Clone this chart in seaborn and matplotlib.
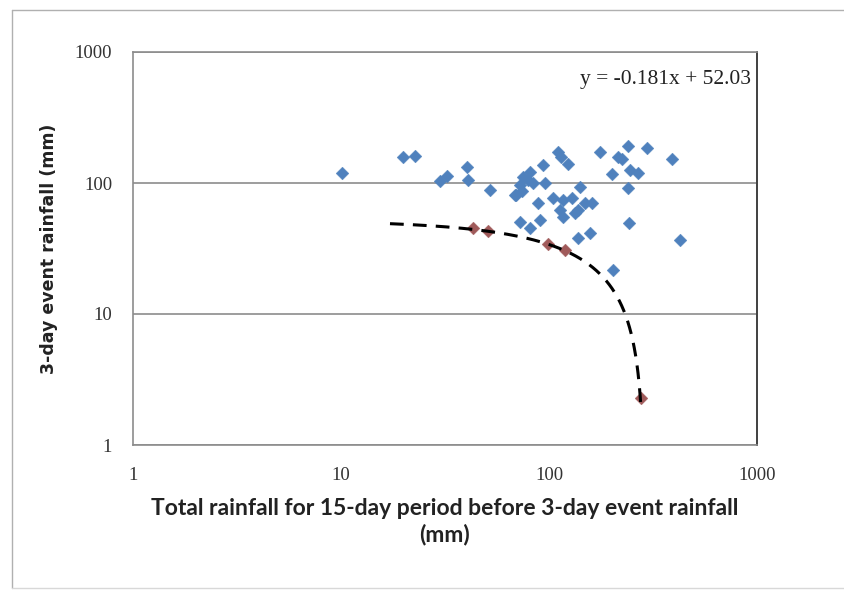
import numpy as np
import pandas as pd
import matplotlib
matplotlib.use("Agg")
import matplotlib.pyplot as plt
from matplotlib.lines import Line2D
import seaborn as sns

# ---------- DATA ----------
# blue series: all events
event_x = [10.1, 19.9, 22.7, 29.9, 32.3, 40.4, 40.8, 52.0, 68.7, 72.6,
           75.0, 79.3, 81.1, 83.8, 95.7, 93.6, 110.5, 114, 123, 176,
           201, 215, 224, 240, 296, 245, 268, 240, 390, 69.4,
           74.2, 141, 88.5, 104.5, 117, 129, 113, 117, 133, 138,
           149, 161, 72.6, 90.5, 81.1, 138, 157, 242, 426, 203]
event_y = [119, 158, 161, 104, 113, 132, 105, 88.5, 81, 96.6,
           111, 105, 121, 100, 100, 137, 172, 158, 140, 172,
           117, 158, 152, 192, 185, 126, 119, 91.6, 152, 81,
           86.9, 93.2, 70.4, 76.8, 74.2, 76.8, 62.2, 55.0, 59.0, 62.2,
           70.4, 70.4, 50.4, 52.2, 45.3, 38.0, 41.5, 49.5, 36.7, 21.7]

# red series: threshold events
thr_x = [43, 51, 99, 119, 277]
thr_y = [45, 43, 34, 31, 2.3]

# trendline as printed on the chart, drawn over its forecast range
SLOPE = -0.181
INTERCEPT = 52.03
TREND_RANGE = (17.2, 277)

BLUE = "#4F81BD"
RED = "#A05A5A"

sns.set_theme(style="white")
plt.rcParams["font.family"] = ["Liberation Serif", "DejaVu Serif"]

fig = plt.figure(figsize=(8.45, 5.91), dpi=100)
ax = fig.add_axes([133 / 845, 1 - 445 / 591, (757 - 133) / 845, (445 - 52) / 591])

ev = pd.DataFrame({"x": event_x, "y": event_y})
th = pd.DataFrame({"x": thr_x, "y": thr_y})

tx = np.linspace(TREND_RANGE[0], TREND_RANGE[1], 400)
trend = pd.DataFrame({"x": tx, "y": SLOPE * tx + INTERCEPT})

sns.scatterplot(data=ev, x="x", y="y", marker="D", s=42, color=BLUE,
                edgecolor=BLUE, linewidth=0.3, ax=ax, zorder=3)
sns.lineplot(data=trend, x="x", y="y", sort=False, color="black", lw=2.2,
             linestyle=(0, (4.5, 3)), ax=ax, zorder=4)
sns.scatterplot(data=th, x="x", y="y", marker="D", s=42, color=RED,
                edgecolor=RED, linewidth=0.3, ax=ax, zorder=3)

ax.set_xscale("log")
ax.set_yscale("log")
ax.set_xlim(1, 1000)
ax.set_ylim(1, 1000)
ax.set_xticks([1, 10, 100, 1000])
ax.set_xticklabels(["1", "10", "100", "1000"])
ax.set_yticks([1, 10, 100, 1000])
ax.set_yticklabels(["1", "10", "100", "1000"])
ax.minorticks_off()
ax.tick_params(axis="both", length=0, labelsize=13.5, colors="#333333")
ax.tick_params(axis="y", pad=15)
ax.tick_params(axis="x", pad=16)

ax.yaxis.grid(True, color="#8c8c8c", lw=1.2)
ax.xaxis.grid(False)
for side in ["left", "bottom", "top"]:
    ax.spines[side].set_color("#8c8c8c")
    ax.spines[side].set_linewidth(1.2)
ax.spines["right"].set_color("#404040")
ax.spines["right"].set_linewidth(1.4)

ax.set_xlabel("Total rainfall for 15-day period before 3-day event rainfall\n(mm)",
              family=["Lato", "DejaVu Sans"], fontweight="bold", fontsize=16.5,
              color="#222222", labelpad=10, linespacing=1.25)
ax.set_ylabel("3-day event rainfall (mm)", family=["DejaVu Sans"],
              fontweight="bold", fontsize=12.5, color="#222222", labelpad=12)

ax.text(0.99, 0.93, "y = -0.181x + 52.03", transform=ax.transAxes,
        ha="right", va="center", fontsize=15.5, color="#222222")

# outer chart border (left, top, faint bottom)
fig.lines.append(Line2D([12 / 845, 12 / 845], [3 / 591, 1 - 10 / 591],
                        transform=fig.transFigure, color="#b0b0b0", lw=1.0))
fig.lines.append(Line2D([12 / 845, 1.0], [1 - 10 / 591, 1 - 10 / 591],
                        transform=fig.transFigure, color="#b0b0b0", lw=1.0))
fig.lines.append(Line2D([12 / 845, 1.0], [3 / 591, 3 / 591],
                        transform=fig.transFigure, color="#d8d8d8", lw=1.0))

fig.savefig("out.png", dpi=100)
